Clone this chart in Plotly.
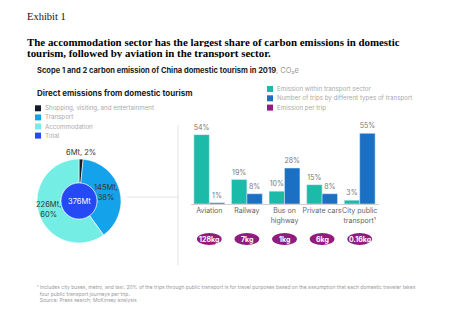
import plotly.graph_objects as go

# ---------------- data ----------------
pie_labels = ["Shopping, visiting, and entertainment", "Transport", "Accommodation"]
pie_values = [6, 145, 226]
pie_pct = [2, 38, 60]
total_label = "Total"
total_value = 376

categories = ["Aviation", "Railway", "Bus on<br>highway", "Private cars", "City public<br>transport¹"]
emission_share = [54, 19, 10, 15, 3]
trip_share = [1, 8, 28, 8, 55]
emission_per_trip = ["128kg", "7kg", "1kg", "6kg", "0.16kg"]

bar_legend = ["Emission within transport sector",
              "Number of trips by different types of transport",
              "Emission per trip"]

title_lines = ["The accommodation sector has the largest share of carbon emissions in domestic",
               "tourism, followed by aviation in the transport sector."]

# ---------------- style ----------------
W, H = 465, 326
pie_colors = ["#141B2D", "#14A3EB", "#74EEE5"]
total_color = "#2549F5"
teal = "#1CBAA8"
blue = "#1B70C3"
purple = "#901C7F"
SANS = "Inter, Roboto, Arial, sans-serif"
SERIF = "Liberation Serif, DejaVu Serif, serif"


def fx(x):
    return x / W


def fy(y):
    return 1 - y / H


fig = go.Figure()

# donut
cx, cy, r = 79, 201, 42
fig.add_trace(go.Pie(
    labels=pie_labels, values=pie_values, sort=False, direction="clockwise",
    hole=0.43, marker=dict(colors=pie_colors, line=dict(color="white", width=0.6)),
    textinfo="none", hoverinfo="label+value", showlegend=False,
    domain=dict(x=[fx(cx - r), fx(cx + r)], y=[fy(cy + r), fy(cy - r)]),
))
# total circle
ri = 18
fig.add_trace(go.Pie(
    labels=[total_label], values=[total_value], sort=False,
    marker=dict(colors=[total_color], line=dict(color="white", width=0.5)),
    textinfo="none", hoverinfo="label+value", showlegend=False,
    domain=dict(x=[fx(cx - ri), fx(cx + ri)], y=[fy(cy + ri), fy(cy - ri)]),
))

# bars
fig.add_trace(go.Bar(
    x=categories, y=emission_share, name=bar_legend[0], marker_color=teal,
    texttemplate="%{y}%", textposition="outside", constraintext="none",
    textfont=dict(size=7, color="#777", family=SANS), cliponaxis=False, showlegend=False,
))
fig.add_trace(go.Bar(
    x=categories, y=trip_share, name=bar_legend[1], marker_color=blue,
    texttemplate="%{y}%", textposition="outside", constraintext="none",
    textfont=dict(size=7, color="#777", family=SANS), cliponaxis=False, showlegend=False,
))

ann = []
shapes = []

# emission per trip ovals
for i, (c, v) in enumerate(zip(categories, emission_per_trip)):
    shapes.append(dict(type="circle", xref="x", yref="paper",
                       x0=i - 0.33, x1=i + 0.33, y0=fy(245), y1=fy(233),
                       fillcolor=purple, line=dict(width=0)))
    ann.append(dict(x=c, xref="x", y=fy(239), yref="paper", text=v, showarrow=False,
                    font=dict(size=7, color="white", family=SANS, weight="bold"),
                    xanchor="center", yanchor="middle"))

# pie labels
pie_text_pos = [(80.5, 152.3), (106, 192), (48, 209.5)]
for (x, y), v, p in zip(pie_text_pos, pie_values, pie_pct):
    txt = f"{v}Mt, {p}%" if p < 5 else f"{v}Mt,<br>{p}%"
    ann.append(dict(x=fx(x), y=fy(y), xref="paper", yref="paper", text=txt, showarrow=False,
                    font=dict(size=7.5, color="#333", family=SANS), xanchor="center",
                    yanchor="middle"))
ann.append(dict(x=fx(cx), y=fy(cy), xref="paper", yref="paper", text=f"{total_value}Mt",
                showarrow=False, font=dict(size=7.5, color="white", family=SANS),
                xanchor="center", yanchor="middle"))

# left legend
left_items = list(zip(pie_labels + [total_label], pie_colors + [total_color]))
for k, (lab, col) in enumerate(left_items):
    yc = 108.3 + 9.1 * k
    shapes.append(dict(type="rect", xref="paper", yref="paper", x0=fx(35), x1=fx(41),
                       y0=fy(yc + 3), y1=fy(yc - 3), fillcolor=col, line=dict(width=0)))
    ann.append(dict(x=fx(42.5), y=fy(yc), xref="paper", yref="paper", text=lab, showarrow=False,
                    font=dict(size=6.2, color="#aaa", family=SANS), xanchor="left",
                    yanchor="middle"))

# right legend
for k, (lab, col) in enumerate(zip(bar_legend, [teal, blue, purple])):
    yc = 89 + 9.3 * k
    shapes.append(dict(type="rect", xref="paper", yref="paper", x0=fx(267), x1=fx(273),
                       y0=fy(yc + 3), y1=fy(yc - 3), fillcolor=col, line=dict(width=0)))
    ann.append(dict(x=fx(274.5), y=fy(yc), xref="paper", yref="paper", text=lab, showarrow=False,
                    font=dict(size=6.2, color="#aaa", family=SANS), xanchor="left",
                    yanchor="middle"))

# connector lines
shapes.append(dict(type="line", xref="paper", yref="paper", x0=fx(127), x1=fx(178),
                   y0=fy(197), y1=fy(197), line=dict(color="#e2e2e2", width=1)))
shapes.append(dict(type="line", xref="paper", yref="paper", x0=fx(178), x1=fx(178),
                   y0=fy(125), y1=fy(265), line=dict(color="#e2e2e2", width=1)))

# titles
ann.append(dict(x=fx(25), y=fy(16), xref="paper", yref="paper", text="Exhibit 1",
                showarrow=False, font=dict(size=10.5, color="#111", family=SERIF),
                xanchor="left", yanchor="middle"))
for k, line in enumerate(title_lines):
    ann.append(dict(x=fx(25), y=fy(41.3 + 11.3 * k), xref="paper", yref="paper",
                    text=line, showarrow=False, align="left", height=11,
                    font=dict(size=10.9, color="#000", family=SERIF, weight="bold"),
                    xanchor="left", yanchor="middle"))
ann.append(dict(x=fx(35), y=fy(71), xref="paper", yref="paper",
                text="<b>Scope 1 and 2 carbon emission of China domestic tourism in 2019</b>"
                     "<span style='color:#999'>, CO₂e</span>",
                showarrow=False, font=dict(size=7.5, color="#222", family=SANS),
                xanchor="left", yanchor="middle"))
ann.append(dict(x=fx(35), y=fy(92.7), xref="paper", yref="paper",
                text="<b>Direct emissions from domestic tourism</b>",
                showarrow=False, font=dict(size=8, color="#222", family=SANS),
                xanchor="left", yanchor="middle"))
ann.append(dict(x=fx(34.5), y=fy(293), xref="paper", yref="paper",
                text="¹ Includes city buses, metro, and taxi. 20% of the trips through public transport is for "
                     "travel purposes based on the assumption that each domestic traveler takes<br>"
                     "  four public transport journeys per trip.<br>"
                     "  Source: Press search; McKinsey analysis",
                showarrow=False, align="left", font=dict(size=5, color="#999", family=SANS),
                xanchor="left", yanchor="middle"))

fig.update_layout(
    width=W, height=H, margin=dict(l=0, r=0, t=0, b=0),
    paper_bgcolor="white", plot_bgcolor="white",
    barmode="group", bargap=0.18, bargroupgap=0,
    xaxis=dict(domain=[fx(190.5), fx(378.5)], showgrid=False, showline=True,
               linecolor="#d0d0d0", linewidth=1, ticks="", zeroline=False, tickangle=0,
               automargin=False,
               tickfont=dict(size=7, color="#666", family=SANS), fixedrange=True),
    yaxis=dict(domain=[fy(204), fy(125)], range=[0, 61.5], visible=False, fixedrange=True),
    annotations=ann, shapes=shapes, showlegend=False,
)

fig.write_html("out.html")
